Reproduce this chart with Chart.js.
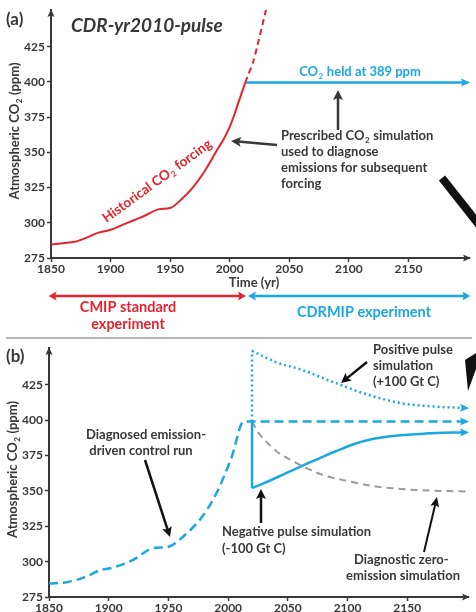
<!DOCTYPE html>
<html>
<head>
<meta charset="utf-8">
<script src="https://cdn.jsdelivr.net/npm/chart.js@4/dist/chart.umd.min.js"></script>
<style>
  html, body { margin: 0; padding: 0; background: #fff; }
  #wrap { position: relative; width: 476px; height: 612px; overflow: hidden; }
  canvas { position: absolute; left: 0; top: 0; }
</style>
</head>
<body>
<div id="wrap">
  <canvas id="chartA" width="476" height="612" style="width:476px;height:612px"></canvas>
  <canvas id="chartB" width="476" height="612" style="width:476px;height:612px"></canvas>
</div>
<script>
// ---- data: panel (a) ----
const histYears = [1850, 1860, 1870, 1880, 1890, 1900, 1910, 1920, 1930, 1940, 1950, 1960, 1970, 1980, 1990, 1995, 2000, 2004, 2008, 2013];
const histCO2   = [284.5, 285.5, 286.5, 289.5, 293, 295, 298.5, 302, 305.5, 309.5, 310.5, 317, 326, 338, 352.5, 359.5, 368, 377, 387, 399.5];
const futureYears = [2013, 2020, 2031];
const futureCO2   = [399.5, 415, 453];
const heldYears = [2013, 2200];
const heldCO2   = [399.5, 399.5];

// ---- data: panel (b) ----
const ctrlYears = [1850, 1865, 1880, 1893, 1902, 1920, 1937, 1950, 1964, 1978, 1990, 2003, 2013, 2200];
const ctrlCO2   = [284.5, 285.5, 289, 294, 295.5, 301, 309.5, 310.5, 319, 331.5, 348, 374, 399, 399];
const pulseYear = 2020;
const posYears = [2020, 2040, 2062, 2089, 2117, 2145, 2175, 2200];
const posCO2   = [449, 441, 435.5, 426.5, 418, 412, 409.5, 408.5];
const negYears = [2020, 2030, 2042, 2060, 2075, 2090, 2105, 2120, 2140, 2165, 2200];
const negCO2   = [352, 355.5, 360, 367, 372.5, 378, 383, 386.5, 389, 390.5, 391.5];
const zeroYears = [2020, 2025, 2030, 2042, 2050, 2061, 2080, 2100, 2125, 2150, 2200];
const zeroCO2   = [399, 391.5, 386.5, 377, 373, 368, 361, 357, 353, 351, 349.5];

const yTicks = [275, 300, 325, 350, 375, 400, 425];
const xTicks = [1850, 1900, 1950, 2000, 2050, 2100, 2150];

const RED = '#e5232c';
const BLUE = '#1aa8e2';
const GREY = '#9b9b9b';
const INK = '#383838';
const FONT = 'Lato, "Open Sans", sans-serif';
const TXT = 13;

function pts(xs, ys) {
    return xs.map((x, i) => ({ x: x, y: ys[i] }));
}

// text with "₂" drawn as a real subscript 2
function richText(ctx, str, x, y, size, color, align) {
    const parts = str.split('\u2082');
    const big = 'bold ' + size + 'px ' + FONT;
    const small = 'bold ' + Math.round(size * 0.62) + 'px ' + FONT;
    ctx.save();
    ctx.fillStyle = color;
    ctx.textBaseline = 'middle';
    ctx.textAlign = 'left';
    let total = 0;
    parts.forEach((p, i) => {
        ctx.font = big;
        total += ctx.measureText(p).width;
        if (i < parts.length - 1) { ctx.font = small; total += ctx.measureText('2').width + 1; }
    });
    let cx = x;
    if (align === 'center') cx = x - total / 2;
    if (align === 'right') cx = x - total;
    parts.forEach((p, i) => {
        ctx.font = big;
        ctx.fillText(p, cx, y);
        cx += ctx.measureText(p).width;
        if (i < parts.length - 1) {
            ctx.font = small;
            ctx.fillText('2', cx + 0.5, y + size * 0.32);
            cx += ctx.measureText('2').width + 1;
        }
    });
    ctx.restore();
}

function head(ctx, x1, y1, x2, y2, len, half, color) {
    const a = Math.atan2(y2 - y1, x2 - x1);
    ctx.save();
    ctx.fillStyle = color;
    ctx.beginPath();
    ctx.moveTo(x2, y2);
    ctx.lineTo(x2 - len * Math.cos(a) + half * Math.sin(a), y2 - len * Math.sin(a) - half * Math.cos(a));
    ctx.lineTo(x2 - len * Math.cos(a) * 0.8, y2 - len * Math.sin(a) * 0.8);
    ctx.lineTo(x2 - len * Math.cos(a) - half * Math.sin(a), y2 - len * Math.sin(a) + half * Math.cos(a));
    ctx.closePath();
    ctx.fill();
    ctx.restore();
}

function arrow(ctx, x1, y1, x2, y2, color, lw, len, half, both) {
    const a = Math.atan2(y2 - y1, x2 - x1);
    const back = len * 0.7;
    ctx.save();
    ctx.strokeStyle = color;
    ctx.lineWidth = lw;
    ctx.beginPath();
    ctx.moveTo(both ? x1 + back * Math.cos(a) : x1, both ? y1 + back * Math.sin(a) : y1);
    ctx.lineTo(x2 - back * Math.cos(a), y2 - back * Math.sin(a));
    ctx.stroke();
    ctx.restore();
    head(ctx, x1, y1, x2, y2, len, half, color);
    if (both) head(ctx, x2, y2, x1, y1, len, half, color);
}

function axisArrows(chart) {
    const ctx = chart.ctx;
    const a = chart.chartArea;
    ctx.save();
    ctx.strokeStyle = INK;
    ctx.lineWidth = 2;
    ctx.beginPath();
    ctx.moveTo(a.right, a.bottom); ctx.lineTo(a.right + 2, a.bottom);
    ctx.stroke();
    ctx.restore();
    head(ctx, a.left, a.top + 10, a.left, a.top - 1, 8, 3.5, INK);
    head(ctx, a.right - 8, a.bottom, a.right + 3, a.bottom, 8, 3.5, INK);
}

function yTitle(chart, x) {
    const ctx = chart.ctx;
    const a = chart.chartArea;
    ctx.save();
    ctx.translate(x, (a.top + a.bottom) / 2 - 3);
    ctx.rotate(-Math.PI / 2);
    richText(ctx, 'Atmospheric CO\u2082 (ppm)', 0, 0, 13, INK, 'center');
    ctx.restore();
}

function lineEndHead(chart, index, color, len, half) {
    const pts = chart.getDatasetMeta(index).data;
    const p = pts[pts.length - 1], q = pts[pts.length - 2];
    head(chart.ctx, q.x, q.y, p.x + 2, p.y, len, half, color);
}

function scales(left, xHeight) {
    const tickFont = { family: FONT, size: 12, weight: 'bold' };
    return {
        x: {
            type: 'linear', min: 1850, max: 2200,
            afterFit: s => { s.height = xHeight; },
            afterBuildTicks: s => { s.ticks = xTicks.map(v => ({ value: v })); },
            ticks: { font: tickFont, color: INK, padding: 0, maxRotation: 0, callback: v => String(v) },
            grid: { drawOnChartArea: false, tickLength: 4, tickColor: INK, tickWidth: 1.5 },
            border: { color: INK, width: 2 }
        },
        y: {
            min: 275, max: 451,
            afterFit: s => { s.width = left; },
            afterBuildTicks: s => { s.ticks = yTicks.map(v => ({ value: v })); },
            ticks: { font: tickFont, color: INK, padding: 2, callback: v => String(v) },
            grid: { drawOnChartArea: false, tickLength: 4, tickColor: INK, tickWidth: 1.5 },
            border: { color: INK, width: 2 }
        }
    };
}

const common = {
    responsive: false,
    animation: false,
    devicePixelRatio: 1,
    plugins: { legend: { display: false }, tooltip: { enabled: false } },
    elements: { point: { radius: 0 } }
};

// ---------- panel (a) ----------
const panelA = {
    id: 'panelA',
    afterDraw(chart) {
        const ctx = chart.ctx;
        const xs = chart.scales.x;
        axisArrows(chart);
        lineEndHead(chart, 2, BLUE, 9, 4);
        yTitle(chart, 15);

        ctx.save();
        ctx.fillStyle = INK;
        ctx.textBaseline = 'middle';
        ctx.font = 'bold 17px ' + FONT;
        ctx.fillText('(a)', 6, 20);
        ctx.font = 'italic bold 19px ' + FONT;
        ctx.fillText('CDR-yr2010-pulse', 71, 26);
        ctx.restore();

        richText(ctx, 'Time (yr)', 254, 283, TXT, INK, 'center');

        // annotations
        ctx.save();
        ctx.translate(157, 181);
        ctx.rotate(-36 * Math.PI / 180);
        richText(ctx, 'Historical CO\u2082 forcing', 0, 0, 13.5, RED, 'center');
        ctx.restore();

        richText(ctx, 'CO\u2082 held at 389 ppm', 360, 72, TXT, BLUE, 'center');
        arrow(ctx, 338, 130, 338, 90, INK, 2.5, 10, 5);
        const notes = ['Prescribed CO\u2082 simulation', 'used to diagnose', 'emissions for subsequent', 'forcing'];
        notes.forEach((t, i) => richText(ctx, t, 281, 136 + i * 16, TXT, INK, 'left'));
        arrow(ctx, 277, 145, 231, 141, INK, 2.5, 10, 5);

        // thick connector towards panel (b)
        ctx.save();
        ctx.strokeStyle = '#111';
        ctx.lineWidth = 8;
        ctx.beginPath();
        ctx.moveTo(442, 178); ctx.lineTo(480, 226);
        ctx.stroke();
        ctx.restore();

        // experiment spans
        const split = xs.getPixelForValue(2014.5);
        arrow(ctx, xs.getPixelForValue(1848), 296, split - 1, 296, RED, 2.5, 8, 4.5, true);
        arrow(ctx, split + 1, 296, xs.getPixelForValue(2202), 296, BLUE, 2.5, 8, 4.5, true);
        richText(ctx, 'CMIP standard', 128, 307, 14.5, RED, 'center');
        richText(ctx, 'experiment', 128, 324, 14.5, RED, 'center');
        richText(ctx, 'CDRMIP experiment', 364, 312, 14.5, BLUE, 'center');

        ctx.save();
        ctx.strokeStyle = GREY;
        ctx.lineWidth = 1.5;
        ctx.beginPath();
        ctx.moveTo(6, 338); ctx.lineTo(472, 338);
        ctx.stroke();
        ctx.restore();
    }
};

new Chart(document.getElementById('chartA'), {
    type: 'line',
    data: {
        datasets: [
            { data: pts(histYears, histCO2), borderColor: RED, borderWidth: 2, cubicInterpolationMode: 'monotone' },
            { data: pts(futureYears, futureCO2), borderColor: RED, borderWidth: 2, borderDash: [6, 4], tension: 0.2 },
            { data: pts(heldYears, heldCO2), borderColor: BLUE, borderWidth: 2.5 }
        ]
    },
    options: Object.assign({}, common, {
        layout: { padding: { left: 0, right: 8, top: 10, bottom: 334 } },
        scales: scales(51, 20)
    }),
    plugins: [panelA]
});

// ---------- panel (b) ----------
const panelB = {
    id: 'panelB',
    afterDraw(chart) {
        const ctx = chart.ctx;
        axisArrows(chart);
        lineEndHead(chart, 0, BLUE, 9, 4);
        lineEndHead(chart, 2, BLUE, 9, 4);
        lineEndHead(chart, 4, BLUE, 9, 4);
        yTitle(chart, 13);

        ctx.save();
        ctx.fillStyle = INK;
        ctx.textBaseline = 'middle';
        ctx.font = 'bold 17px ' + FONT;
        ctx.fillText('(b)', 6, 357);
        ctx.restore();

        richText(ctx, 'Diagnosed emission-', 146, 435, TXT, INK, 'center');
        richText(ctx, 'driven control run', 141, 451, TXT, INK, 'center');
        arrow(ctx, 145, 460, 170, 537, '#111', 2.5, 10, 5);

        ['Positive pulse', 'simulation', '(+100 Gt C)'].forEach((t, i) => richText(ctx, t, 373, 350 + i * 16, TXT, INK, 'left'));
        arrow(ctx, 367, 362, 341, 383, '#111', 2.5, 10, 5);

        richText(ctx, 'Negative pulse simulation', 222, 532, TXT, INK, 'left');
        richText(ctx, '(-100 Gt C)', 222, 549, TXT, INK, 'left');
        arrow(ctx, 261, 523, 261, 489, '#111', 2.5, 10, 5);

        richText(ctx, 'Diagnostic zero-', 354, 560, TXT, INK, 'left');
        richText(ctx, 'emission simulation', 346, 576, TXT, INK, 'left');
        arrow(ctx, 424, 552, 437, 497, '#111', 2, 10, 4.5);

        // end of the thick connector
        ctx.save();
        ctx.fillStyle = '#111';
        ctx.beginPath();
        ctx.moveTo(465, 360); ctx.lineTo(476, 353); ctx.lineTo(476, 369); ctx.lineTo(468, 391);
        ctx.closePath();
        ctx.fill();
        ctx.restore();
    }
};

new Chart(document.getElementById('chartB'), {
    type: 'line',
    data: {
        datasets: [
            { data: pts(ctrlYears, ctrlCO2), borderColor: BLUE, borderWidth: 2.5, borderDash: [9, 5], cubicInterpolationMode: 'monotone' },
            { data: pts([pulseYear, pulseYear], [399, posCO2[0]]), borderColor: BLUE, borderWidth: 2.5, borderDash: [2, 3] },
            { data: pts(posYears, posCO2), borderColor: BLUE, borderWidth: 2.5, borderDash: [2, 3], cubicInterpolationMode: 'monotone' },
            { data: pts([pulseYear, pulseYear], [399, negCO2[0]]), borderColor: BLUE, borderWidth: 2.5 },
            { data: pts(negYears, negCO2), borderColor: BLUE, borderWidth: 2.5, cubicInterpolationMode: 'monotone' },
            { data: pts(zeroYears, zeroCO2), borderColor: GREY, borderWidth: 2, borderDash: [7, 5], cubicInterpolationMode: 'monotone' }
        ]
    },
    options: Object.assign({}, common, {
        layout: { padding: { left: 0, right: 9, top: 348, bottom: 0 } },
        scales: scales(49, 15)
    }),
    plugins: [panelB]
});
</script>
</body>
</html>
